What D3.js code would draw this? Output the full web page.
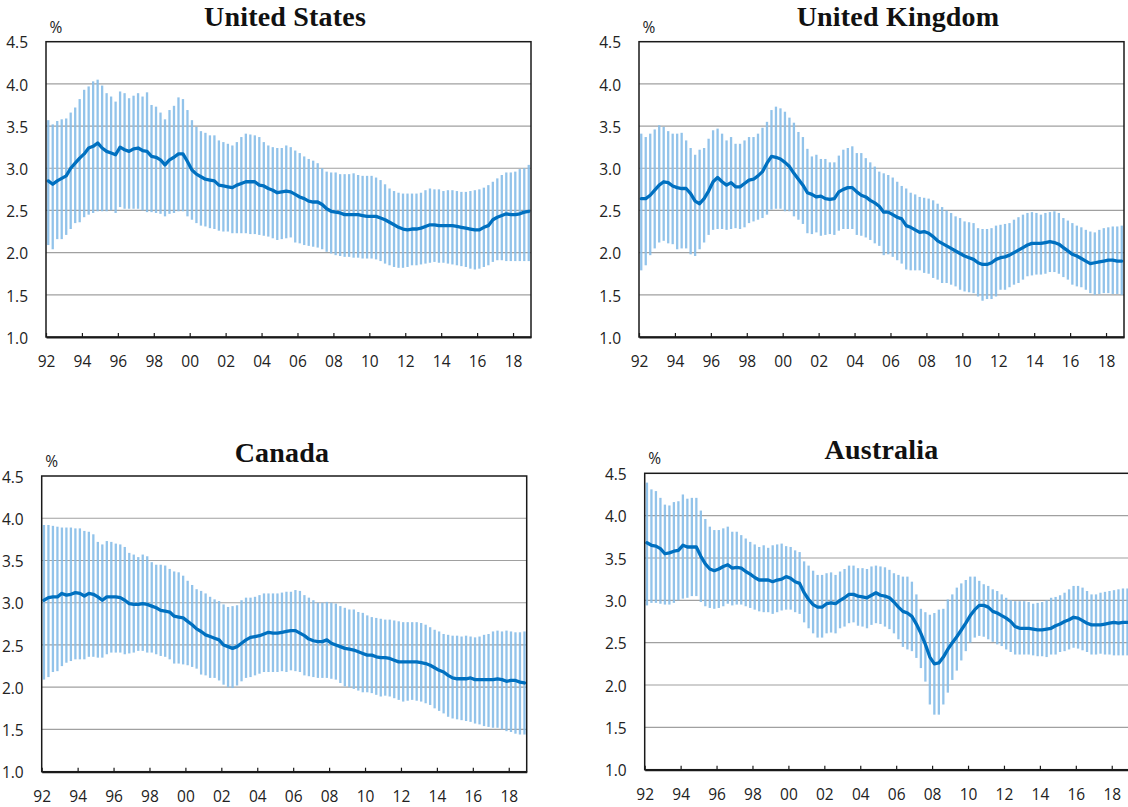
<!DOCTYPE html>
<html>
<head>
<meta charset="utf-8">
<script src="https://cdn.jsdelivr.net/npm/d3@7/dist/d3.min.js"></script>
<style>
  html, body { margin: 0; padding: 0; background: #fff; }
  svg { display: block; }
  .title { font-family: "Liberation Serif", "DejaVu Serif", serif; font-weight: bold; font-size: 28px; letter-spacing: 0.2px; fill: #111; }
  .tick text, .unit { font-family: "Open Sans", "Noto Sans", sans-serif; font-size: 15.5px; fill: #222; }
</style>
</head>
<body>
<svg id="chart" width="1128" height="807"></svg>
<script>
// Quarterly observations, 1992 Q1 – 2018 Q4 (108 quarters)
const startYear = 1992;
const endYear = 2019;
const tickYears = [1992, 1994, 1996, 1998, 2000, 2002, 2004, 2006, 2008, 2010, 2012, 2014, 2016, 2018];
const yTicks = [1.0, 1.5, 2.0, 2.5, 3.0, 3.5, 4.0, 4.5];
const countries = ["United States", "United Kingdom", "Canada", "Australia"];

// United States
const usMedian = [2.85,2.81,2.85,2.88,2.91,3.00,3.06,3.12,3.17,3.24, 3.26,3.30,3.24,3.20,3.18,3.16,3.25,3.22,3.20,3.23,
  3.24,3.21,3.20,3.14,3.13,3.10,3.04,3.10,3.13,3.17, 3.17,3.08,2.98,2.93,2.90,2.87,2.86,2.85,2.80,2.79,
  2.78,2.77,2.80,2.82,2.84,2.84,2.84,2.80,2.79,2.76, 2.74,2.71,2.72,2.73,2.72,2.69,2.66,2.64,2.61,2.60,
  2.60,2.57,2.52,2.49,2.48,2.47,2.45,2.45,2.45,2.45, 2.44,2.43,2.43,2.43,2.41,2.39,2.36,2.33,2.30,2.28,
  2.27,2.28,2.28,2.29,2.31,2.33,2.33,2.32,2.32,2.32, 2.32,2.31,2.30,2.29,2.28,2.27,2.27,2.30,2.32,2.39,
  2.42,2.44,2.46,2.45,2.45,2.46,2.48,2.49];
const usHigh = [3.57,3.52,3.56,3.58,3.59,3.66,3.72,3.82,3.93,3.97, 4.03,4.05,3.98,3.89,3.85,3.79,3.91,3.89,3.83,3.86,
  3.89,3.85,3.90,3.75,3.73,3.66,3.58,3.69,3.74,3.84, 3.82,3.69,3.57,3.49,3.44,3.42,3.39,3.39,3.33,3.31,
  3.29,3.27,3.31,3.37,3.41,3.40,3.39,3.37,3.31,3.27, 3.25,3.24,3.24,3.27,3.25,3.21,3.18,3.14,3.11,3.09,
  3.06,3.00,2.96,2.95,2.95,2.93,2.93,2.93,2.94,2.92, 2.91,2.91,2.91,2.89,2.86,2.81,2.76,2.73,2.71,2.70,
  2.70,2.70,2.70,2.71,2.74,2.76,2.75,2.75,2.73,2.74, 2.74,2.73,2.72,2.72,2.73,2.74,2.75,2.77,2.80,2.84,
  2.88,2.92,2.95,2.95,2.96,2.99,3.00,3.04];
const usLow = [2.09,2.04,2.16,2.16,2.21,2.28,2.35,2.36,2.42,2.45, 2.47,2.49,2.49,2.49,2.50,2.47,2.54,2.52,2.52,2.52,
  2.52,2.50,2.48,2.48,2.47,2.46,2.43,2.46,2.47,2.49, 2.49,2.43,2.39,2.35,2.32,2.31,2.29,2.28,2.26,2.25,
  2.25,2.23,2.23,2.23,2.23,2.22,2.22,2.21,2.20,2.19, 2.17,2.15,2.16,2.17,2.18,2.12,2.11,2.09,2.08,2.07,
  2.06,2.04,2.01,1.99,1.97,1.96,1.95,1.95,1.94,1.94, 1.93,1.93,1.93,1.92,1.90,1.87,1.85,1.83,1.82,1.82,
  1.83,1.85,1.85,1.86,1.87,1.88,1.89,1.88,1.88,1.87, 1.86,1.85,1.84,1.83,1.81,1.80,1.81,1.83,1.85,1.89,
  1.91,1.91,1.90,1.90,1.90,1.90,1.90,1.90];

// United Kingdom
const ukMedian = [2.64,2.64,2.68,2.74,2.80,2.84,2.83,2.79,2.77,2.76, 2.76,2.70,2.61,2.58,2.64,2.73,2.84,2.89,2.84,2.80,
  2.83,2.78,2.78,2.82,2.86,2.87,2.91,2.96,3.06,3.14, 3.13,3.11,3.07,3.02,2.94,2.87,2.80,2.71,2.69,2.66,
  2.67,2.64,2.63,2.64,2.72,2.75,2.77,2.77,2.72,2.68, 2.66,2.62,2.59,2.55,2.48,2.48,2.45,2.42,2.40,2.32,
  2.30,2.27,2.24,2.25,2.23,2.19,2.14,2.11,2.08,2.05, 2.02,1.99,1.96,1.94,1.92,1.88,1.86,1.86,1.88,1.92,
  1.94,1.95,1.97,2.00,2.03,2.06,2.09,2.11,2.11,2.11, 2.12,2.13,2.12,2.10,2.06,2.02,1.98,1.96,1.93,1.90,
  1.87,1.88,1.89,1.90,1.91,1.91,1.90,1.90];
const ukHigh = [3.41,3.37,3.41,3.46,3.51,3.49,3.44,3.41,3.41,3.42, 3.33,3.24,3.16,3.22,3.24,3.35,3.45,3.47,3.41,3.33,
  3.37,3.29,3.29,3.33,3.37,3.37,3.41,3.48,3.55,3.69, 3.73,3.71,3.67,3.60,3.54,3.43,3.37,3.23,3.14,3.16,
  3.11,3.11,3.07,3.07,3.15,3.22,3.24,3.26,3.18,3.18, 3.12,3.07,3.02,2.96,2.94,2.92,2.89,2.84,2.79,2.76,
  2.71,2.69,2.66,2.65,2.64,2.62,2.58,2.54,2.50,2.47, 2.43,2.41,2.37,2.36,2.35,2.29,2.28,2.28,2.29,2.32,
  2.33,2.34,2.35,2.39,2.42,2.45,2.47,2.48,2.47,2.45, 2.47,2.48,2.49,2.47,2.41,2.38,2.35,2.32,2.30,2.27,
  2.25,2.24,2.27,2.29,2.30,2.31,2.31,2.32];
const ukLow = [1.79,1.85,1.97,2.05,2.12,2.14,2.11,2.10,2.04,2.05, 2.05,1.98,1.96,2.04,2.12,2.21,2.27,2.28,2.28,2.27,
  2.28,2.29,2.28,2.30,2.35,2.37,2.39,2.41,2.45,2.51, 2.52,2.52,2.49,2.49,2.43,2.39,2.34,2.23,2.22,2.24,
  2.20,2.21,2.22,2.21,2.26,2.28,2.28,2.28,2.21,2.20, 2.18,2.15,2.11,2.08,1.97,1.98,1.95,1.91,1.87,1.80,
  1.79,1.79,1.79,1.76,1.75,1.70,1.68,1.64,1.64,1.62, 1.60,1.56,1.54,1.53,1.52,1.48,1.43,1.45,1.45,1.48,
  1.56,1.56,1.59,1.62,1.64,1.68,1.72,1.73,1.74,1.74, 1.75,1.77,1.77,1.75,1.71,1.68,1.62,1.60,1.59,1.56,
  1.52,1.50,1.51,1.52,1.52,1.51,1.51,1.50];

// Canada
const caMedian = [3.03,3.06,3.07,3.07,3.11,3.09,3.10,3.12,3.11,3.08, 3.11,3.10,3.07,3.03,3.07,3.07,3.07,3.06,3.03,2.99,
  2.98,2.98,2.99,2.98,2.96,2.94,2.91,2.90,2.89,2.84, 2.83,2.82,2.78,2.74,2.69,2.66,2.62,2.60,2.58,2.56,
  2.50,2.48,2.46,2.48,2.52,2.56,2.59,2.60,2.61,2.63, 2.65,2.64,2.64,2.65,2.66,2.67,2.67,2.64,2.61,2.57,
  2.55,2.54,2.54,2.56,2.52,2.50,2.48,2.46,2.45,2.44, 2.42,2.40,2.38,2.38,2.36,2.35,2.35,2.34,2.32,2.30,
  2.30,2.30,2.30,2.30,2.29,2.28,2.26,2.23,2.20,2.18, 2.14,2.11,2.10,2.10,2.10,2.11,2.09,2.09,2.09,2.09,
  2.09,2.10,2.09,2.07,2.08,2.08,2.06,2.05];
const caHigh = [3.92,3.92,3.91,3.90,3.89,3.89,3.89,3.88,3.88,3.85, 3.84,3.81,3.72,3.69,3.73,3.72,3.70,3.69,3.66,3.59,
  3.57,3.54,3.57,3.55,3.48,3.45,3.45,3.44,3.40,3.37, 3.36,3.32,3.26,3.21,3.16,3.14,3.11,3.07,3.04,3.02,
  2.98,2.95,2.96,2.97,3.03,3.06,3.06,3.07,3.09,3.11, 3.11,3.11,3.11,3.12,3.13,3.13,3.15,3.14,3.09,3.06,
  3.03,3.00,3.00,3.01,3.00,2.99,2.96,2.94,2.92,2.92, 2.89,2.88,2.85,2.83,2.82,2.81,2.80,2.80,2.79,2.78,
  2.77,2.77,2.77,2.77,2.76,2.74,2.71,2.68,2.66,2.63, 2.62,2.61,2.61,2.60,2.61,2.60,2.59,2.60,2.62,2.63,
  2.66,2.67,2.66,2.67,2.66,2.65,2.65,2.66];
const caLow = [2.09,2.12,2.18,2.19,2.25,2.29,2.31,2.33,2.33,2.33, 2.36,2.36,2.35,2.35,2.39,2.41,2.41,2.41,2.39,2.40,
  2.41,2.43,2.43,2.41,2.41,2.39,2.37,2.36,2.33,2.28, 2.28,2.27,2.26,2.24,2.22,2.15,2.14,2.11,2.11,2.08,
  2.03,2.00,1.99,2.02,2.07,2.11,2.12,2.14,2.16,2.18, 2.18,2.18,2.18,2.19,2.18,2.20,2.19,2.18,2.14,2.13,
  2.12,2.11,2.11,2.11,2.10,2.09,2.05,2.01,2.00,1.98, 1.96,1.94,1.94,1.93,1.91,1.89,1.90,1.89,1.87,1.85,
  1.83,1.84,1.85,1.84,1.83,1.81,1.79,1.75,1.72,1.69, 1.65,1.63,1.62,1.61,1.60,1.59,1.57,1.56,1.54,1.53,
  1.52,1.52,1.50,1.48,1.47,1.45,1.44,1.44];

// Australia
const auMedian = [3.68,3.65,3.64,3.61,3.55,3.56,3.58,3.59,3.65,3.63, 3.63,3.63,3.52,3.43,3.37,3.35,3.37,3.40,3.42,3.38,
  3.39,3.38,3.34,3.31,3.27,3.24,3.24,3.24,3.22,3.24, 3.25,3.28,3.26,3.22,3.20,3.09,3.01,2.95,2.92,2.92,
  2.96,2.97,2.96,3.00,3.03,3.07,3.07,3.05,3.04,3.03, 3.06,3.09,3.06,3.05,3.03,2.98,2.92,2.87,2.85,2.81,
  2.72,2.61,2.48,2.33,2.25,2.26,2.33,2.42,2.50,2.57, 2.65,2.73,2.82,2.89,2.94,2.94,2.92,2.87,2.85,2.82,
  2.79,2.75,2.69,2.67,2.67,2.67,2.66,2.65,2.65,2.66, 2.67,2.70,2.72,2.75,2.77,2.80,2.79,2.76,2.73,2.71,
  2.71,2.71,2.72,2.73,2.74,2.73,2.74,2.74];
const auHigh = [4.39,4.31,4.29,4.21,4.13,4.12,4.16,4.17,4.25,4.20, 4.21,4.21,4.06,3.96,3.87,3.83,3.83,3.85,3.87,3.81,
  3.81,3.77,3.73,3.69,3.66,3.63,3.65,3.62,3.65,3.66, 3.67,3.64,3.63,3.59,3.57,3.46,3.41,3.35,3.30,3.30,
  3.32,3.33,3.30,3.34,3.37,3.41,3.41,3.38,3.38,3.37, 3.40,3.41,3.40,3.39,3.36,3.32,3.30,3.28,3.28,3.22,
  3.07,2.90,2.86,2.83,2.85,2.89,2.90,3.01,3.07,3.15, 3.20,3.24,3.28,3.28,3.23,3.19,3.17,3.13,3.11,3.07,
  3.03,3.00,2.99,2.99,2.99,2.98,2.96,2.97,2.98,3.00, 3.03,3.04,3.06,3.09,3.13,3.17,3.17,3.15,3.11,3.07,
  3.07,3.09,3.10,3.11,3.12,3.13,3.14,3.14];
const auLow = [2.94,2.97,2.97,2.96,2.95,2.95,2.97,3.00,3.02,3.03, 3.05,3.05,2.98,2.93,2.91,2.90,2.91,2.93,2.96,2.94,
  2.95,2.95,2.93,2.91,2.89,2.87,2.86,2.86,2.84,2.86, 2.88,2.89,2.89,2.86,2.84,2.74,2.67,2.61,2.56,2.56,
  2.61,2.62,2.61,2.67,2.69,2.73,2.74,2.70,2.69,2.67, 2.71,2.73,2.72,2.69,2.66,2.61,2.54,2.45,2.42,2.40,
  2.32,2.20,2.04,1.77,1.65,1.65,1.77,1.91,2.06,2.17, 2.29,2.40,2.50,2.56,2.58,2.57,2.54,2.51,2.48,2.46,
  2.42,2.39,2.36,2.36,2.36,2.36,2.35,2.34,2.34,2.33, 2.36,2.36,2.39,2.40,2.42,2.44,2.43,2.41,2.39,2.36,
  2.36,2.37,2.36,2.36,2.35,2.35,2.35,2.35];

// Quarter positions as fractional years (mid-quarter)
const quarters = [];
for (let y = startYear; y < endYear; y++) for (let q = 0; q < 4; q++) quarters.push(y + q / 4 + 0.125);

// Panel placement on the page
const layout = [
  { left: 46,    top: 41.7,  width: 485, height: 295.3, titleX: 285,   titleY: 26 },
  { left: 639,   top: 41.7,  width: 485, height: 295.3, titleX: 898,   titleY: 26 },
  { left: 41.7,  top: 476,   width: 485, height: 295.7, titleX: 282,   titleY: 462 },
  { left: 644.7, top: 473.3, width: 485, height: 296.4, titleX: 881.5, titleY: 459 }
];

const series = [
  { median: usMedian, high: usHigh, low: usLow },
  { median: ukMedian, high: ukHigh, low: ukLow },
  { median: caMedian, high: caHigh, low: caLow },
  { median: auMedian, high: auHigh, low: auLow }
];

const svg = d3.select("#chart");
svg.append("rect").attr("width", 1128).attr("height", 807).attr("fill", "#fff");

countries.forEach((name, i) => {
  const L = layout[i];
  const s = series[i];
  const g = svg.append("g").attr("transform", `translate(${L.left},${L.top})`);

  const x = d3.scaleLinear().domain([startYear, endYear]).range([0, L.width]);
  const y = d3.scaleLinear().domain([1.0, 4.5]).range([L.height, 0]);

  // horizontal gridlines
  g.append("g").selectAll("line")
    .data(yTicks.filter(v => v > 1.0 && v < 4.5))
    .join("line")
    .attr("x1", 0).attr("x2", L.width)
    .attr("y1", d => y(d)).attr("y2", d => y(d))
    .attr("stroke", "#a0a0a0").attr("stroke-width", 1.2);

  // range bars (high–low)
  g.append("g").selectAll("rect")
    .data(quarters)
    .join("rect")
    .attr("x", d => x(d) - 1.15)
    .attr("width", 2.3)
    .attr("y", (d, k) => y(s.high[k]))
    .attr("height", (d, k) => y(s.low[k]) - y(s.high[k]))
    .attr("fill", "#86bce8")
    .attr("fill-opacity", 0.9);

  // median line
  const line = d3.line()
    .x((d, k) => x(quarters[k]))
    .y(d => y(d));
  g.append("path")
    .datum(s.median)
    .attr("d", line)
    .attr("fill", "none")
    .attr("stroke", "#0070c0")
    .attr("stroke-width", 3.3)
    .attr("stroke-linejoin", "round")
    .attr("stroke-linecap", "round");

  // plot frame
  g.append("rect")
    .attr("width", L.width).attr("height", L.height)
    .attr("fill", "none").attr("stroke", "#1a1a1a").attr("stroke-width", 1.5);

  // x axis
  const xAxis = d3.axisBottom(x)
    .tickValues(tickYears)
    .tickFormat(d => String(d % 100).padStart(2, "0"))
    .tickSizeInner(-4).tickSizeOuter(0).tickPadding(19);
  const gx = g.append("g").attr("transform", `translate(0,${L.height})`).call(xAxis);
  gx.select(".domain").attr("stroke", "#1a1a1a").attr("stroke-width", 2);
  gx.selectAll(".tick line").attr("stroke", "#1a1a1a").attr("stroke-width", 1.2);

  // y axis labels
  const yAxis = d3.axisLeft(y)
    .tickValues(yTicks)
    .tickFormat(d3.format(".1f"))
    .tickSize(0).tickPadding(18);
  const gy = g.append("g").call(yAxis);
  gy.select(".domain").remove();
  gy.selectAll(".tick text").attr("dy", "0.4em");

  // unit
  g.append("text").attr("class", "unit")
    .attr("x", 10).attr("y", -9)
    .attr("text-anchor", "middle")
    .text("%");

  // title
  svg.append("text").attr("class", "title")
    .attr("x", L.titleX).attr("y", L.titleY)
    .attr("text-anchor", "middle")
    .text(name);
});
</script>
</body>
</html>
